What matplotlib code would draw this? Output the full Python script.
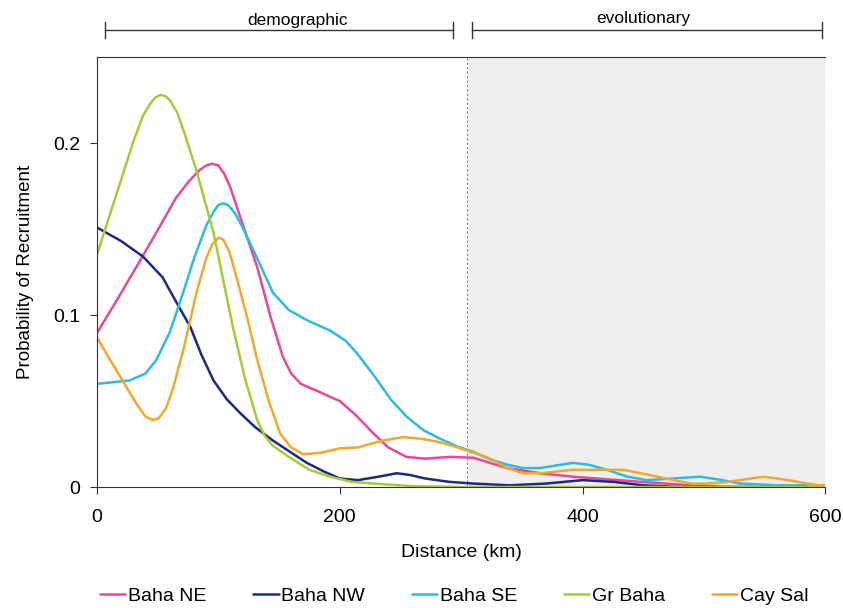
import matplotlib

matplotlib.use("Agg")
import matplotlib.pyplot as plt
from matplotlib.patches import Rectangle

plt.rcParams["font.family"] = ["Liberation Sans", "DejaVu Sans"]

# values (distance in km, probability of recruitment)
ne_x = [0, 15, 30, 49, 65, 76, 84, 90, 95, 100, 105, 110, 120, 132, 143, 153, 160, 168, 181, 200, 213, 228, 240,
        255, 270, 291, 310, 338, 365, 392, 420, 448, 489, 520, 600]
ne_y = [0.0895, 0.107, 0.125, 0.148, 0.168, 0.178, 0.184, 0.187, 0.188, 0.187, 0.182, 0.174, 0.153, 0.128, 0.099,
        0.076, 0.066, 0.060, 0.056, 0.050, 0.042, 0.031, 0.023, 0.0175, 0.0165, 0.0175, 0.017, 0.011, 0.008, 0.006,
        0.0045, 0.003, 0.001, 0.0, 0.0]

nw_x = [0, 20, 38, 54, 65, 77, 86, 96, 107, 118, 130, 145, 160, 173, 187, 200, 215, 232, 247, 258, 270, 290, 310,
        340, 370, 400, 425, 450, 480, 600]
nw_y = [0.151, 0.143, 0.134, 0.122, 0.108, 0.093, 0.077, 0.062, 0.051, 0.043, 0.035, 0.027, 0.020, 0.014, 0.009,
        0.005, 0.004, 0.006, 0.008, 0.007, 0.005, 0.003, 0.002, 0.001, 0.002, 0.004, 0.003, 0.001, 0.0, 0.0]

se_x = [0, 14, 27, 40, 49, 60, 71, 80, 90, 96, 100, 104, 108, 114, 120, 132, 145, 158, 173, 192, 205, 214, 228,
        242, 255, 269, 283, 297, 310, 324, 338, 351, 365, 378, 392, 405, 420, 437, 453, 475, 497, 515, 530, 560, 600]
se_y = [0.060, 0.061, 0.062, 0.066, 0.074, 0.090, 0.113, 0.133, 0.152, 0.160, 0.164, 0.165, 0.164, 0.159, 0.151,
        0.133, 0.113, 0.103, 0.097, 0.091, 0.085, 0.078, 0.065, 0.051, 0.041, 0.033, 0.028, 0.0235, 0.0205, 0.016,
        0.013, 0.011, 0.011, 0.0125, 0.014, 0.013, 0.010, 0.006, 0.004, 0.005, 0.006, 0.004, 0.002, 0.001, 0.001]

gr_x = [0, 10, 21, 30, 38, 44, 48, 52, 56, 60, 66, 72, 82, 96, 112, 122, 132, 138, 145, 157, 175, 192, 210, 228,
        260, 300, 600]
gr_y = [0.135, 0.157, 0.181, 0.201, 0.216, 0.223, 0.2265, 0.228, 0.2275, 0.225, 0.218, 0.206, 0.184, 0.148, 0.093,
        0.063, 0.039, 0.030, 0.024, 0.018, 0.010, 0.006, 0.003, 0.002, 0.0005, 0.0, 0.0]

cs_x = [0, 10, 21, 33, 40, 46, 51, 57, 63, 72, 82, 90, 95, 100, 104, 109, 115, 124, 132, 142, 151, 160, 170, 185,
        200, 215, 235, 252, 268, 283, 297, 310, 324, 338, 351, 365, 392, 434, 455, 475, 490, 503, 520, 549, 570, 585,
        600]
cs_y = [0.087, 0.075, 0.062, 0.048, 0.041, 0.039, 0.040, 0.046, 0.058, 0.082, 0.113, 0.133, 0.141, 0.145, 0.144,
        0.137, 0.122, 0.098, 0.074, 0.049, 0.031, 0.023, 0.019, 0.020, 0.0225, 0.023, 0.027, 0.029, 0.028, 0.026,
        0.023, 0.020, 0.0165, 0.011, 0.008, 0.008, 0.010, 0.010, 0.007, 0.004, 0.002, 0.002, 0.003, 0.006, 0.004,
        0.002, 0.0005]

series = [
    ("Baha NE", ne_x, ne_y, "#e6489b"),
    ("Baha NW", nw_x, nw_y, "#1c2a80"),
    ("Baha SE", se_x, se_y, "#2cbbe3"),
    ("Gr Baha", gr_x, gr_y, "#a5cb38"),
    ("Cay Sal", cs_x, cs_y, "#f4a829"),
]

fig = plt.figure(figsize=(8.43, 6.08), dpi=100)
ax = fig.add_axes([0.115, 0.199, 0.864, 0.707])

ax.add_patch(Rectangle((305, 0), 295, 0.25, facecolor="#efefef", edgecolor="#888888",
                       linestyle=(0, (2, 2)), linewidth=0.8, zorder=0))

for label, xs, ys, color in series:
    ax.plot(xs, ys, color=color, linewidth=1.8, label=label, solid_capstyle="round", solid_joinstyle="round")

ax.set_xlim(0, 600)
ax.set_ylim(0, 0.25)
ax.set_xticks([0, 200, 400, 600])
ax.set_yticks([0, 0.1, 0.2])
ax.set_yticklabels(["0", "0.1", "0.2"])
ax.tick_params(labelsize=14, length=5, pad=7, color="#333333")
ax.tick_params(axis="x", pad=11)
for side in ["left", "bottom", "top"]:
    ax.spines[side].set_color("#333333")
ax.spines["right"].set_visible(False)
ax.set_xlabel("Distance (km)", fontsize=14, labelpad=13)
ax.set_ylabel("Probability of Recruitment", fontsize=13.5, labelpad=14)

# brackets above the plot
trans = ax.get_xaxis_transform()
for x0, x1, text, tx, ty in [(6.6, 293, "demographic", 165, 1.074), (309, 597, "evolutionary", 450, 1.079)]:
    ax.plot([x0, x1], [1.063, 1.063], color="#333333", linewidth=1.0, transform=trans, clip_on=False)
    for xe in (x0, x1):
        ax.plot([xe, xe], [1.045, 1.081], color="#333333", linewidth=1.0, transform=trans, clip_on=False)
    ax.text(tx, ty, text, transform=trans, ha="center", va="baseline", fontsize=12.5)

fig.legend(*ax.get_legend_handles_labels(), loc="center", bbox_to_anchor=(0.539, 0.02), ncol=5, frameon=False,
           fontsize=14, handlelength=1.3, handletextpad=0.15, columnspacing=2.4)

fig.savefig("out.png", dpi=100)
